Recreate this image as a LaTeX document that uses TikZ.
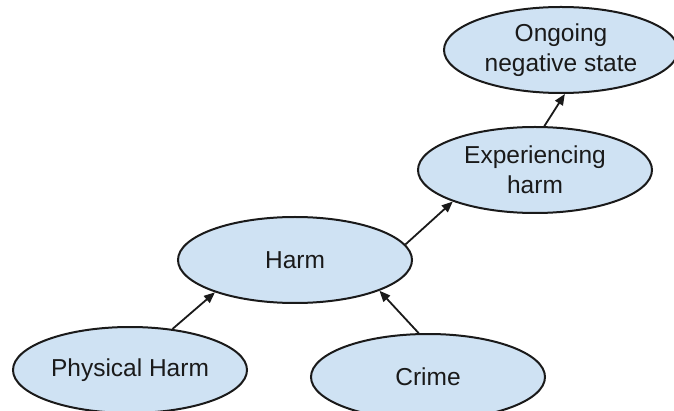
\documentclass[tikz,border=0pt]{standalone}
\usepackage{fontspec}
\setmainfont{Liberation Sans}
\usetikzlibrary{shapes.geometric,arrows.meta}
\definecolor{nodefill}{HTML}{CFE2F3}
\definecolor{inkline}{HTML}{1A1A1A}
\tikzset{
  concept/.style={ellipse, draw=inkline, line width=2pt, fill=nodefill,
    minimum width=234pt, minimum height=86pt, inner sep=0pt,
    align=center, font=\fontsize{24.5}{30}\selectfont, text=inkline},
  link/.style={draw=inkline, line width=1.8pt,
    -{Triangle[length=11pt,width=9pt]}}
}
\begin{document}
\begin{tikzpicture}[x=1pt,y=-1pt]
  \useasboundingbox (0,0) rectangle (674,411);
  \clip (0,0) rectangle (674,411);
  \fill[white] (0,0) rectangle (674,411);

  % concepts
  \node[concept] (ong)   at (561,50)  {Ongoing\\negative state};
  \node[concept] (exp)   at (535,170) {Experiencing\\harm};
  \node[concept] (harm)  at (295,260) {Harm};
  \node[concept] (phys)  at (130,370) {Physical Harm};
  \node[concept] (crime) at (428,377) {Crime};

  % links between concepts
  \draw[link] (phys.44)   -- (harm.202);
  \draw[link] (crime.102) -- (harm.340);
  \draw[link] (harm.8)    -- (exp.201);
  \draw[link] (exp.78)    -- (ong.275);
\end{tikzpicture}
\end{document}
